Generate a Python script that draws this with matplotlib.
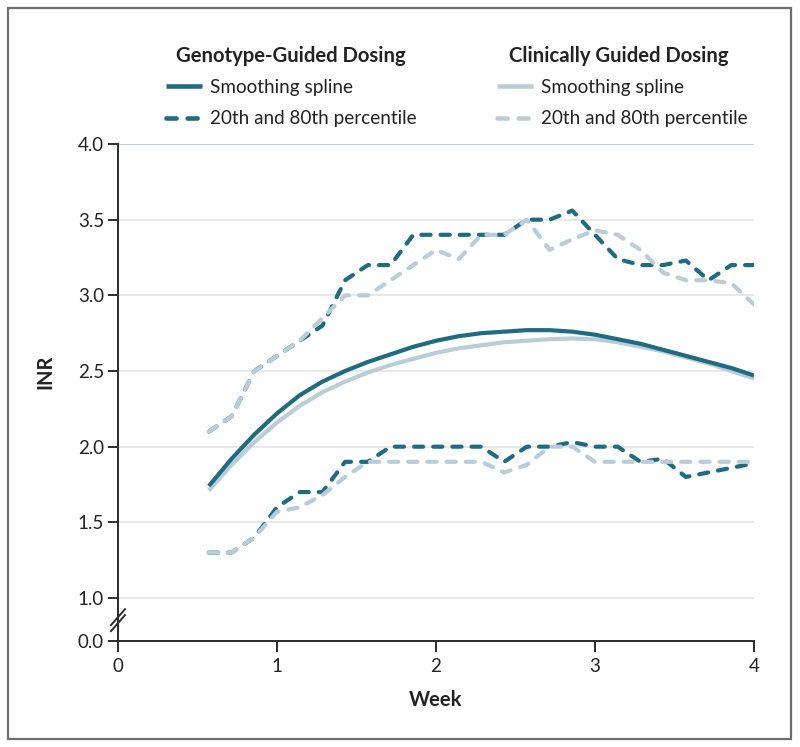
import matplotlib
matplotlib.use("Agg")
import matplotlib.pyplot as plt
from matplotlib.lines import Line2D
from matplotlib.patches import Rectangle

plt.rcParams['font.family'] = ['Lato', 'DejaVu Sans']

# ---- data -------------------------------------------------------------
day = [4, 5, 6, 7, 8, 9, 10, 11, 12, 13, 14, 15, 16, 17, 18, 19, 20,
       21, 22, 23, 24, 25, 26, 27, 28]

geno_spline = [1.74, 1.92, 2.08, 2.22, 2.34, 2.43, 2.50, 2.56, 2.61, 2.66,
               2.70, 2.73, 2.75, 2.76, 2.77, 2.77, 2.76, 2.74, 2.71, 2.68,
               2.64, 2.60, 2.56, 2.52, 2.47]
clin_spline = [1.71, 1.88, 2.03, 2.16, 2.27, 2.36, 2.43, 2.49, 2.54, 2.58,
               2.62, 2.65, 2.67, 2.69, 2.70, 2.71, 2.715, 2.71, 2.69, 2.66,
               2.63, 2.59, 2.55, 2.50, 2.45]
geno_p80 = [2.10, 2.20, 2.50, 2.60, 2.70, 2.80, 3.10, 3.20, 3.20, 3.40,
            3.40, 3.40, 3.40, 3.40, 3.50, 3.50, 3.56, 3.40, 3.24, 3.20,
            3.20, 3.23, 3.10, 3.20, 3.20]
clin_p80 = [2.10, 2.20, 2.50, 2.60, 2.70, 2.85, 3.00, 3.00, 3.10, 3.20,
            3.30, 3.24, 3.40, 3.40, 3.50, 3.30, 3.37, 3.43, 3.40, 3.30,
            3.15, 3.10, 3.10, 3.08, 2.94]
geno_p20 = [1.30, 1.30, 1.40, 1.60, 1.70, 1.70, 1.90, 1.90, 2.00, 2.00,
            2.00, 2.00, 2.00, 1.90, 2.00, 2.00, 2.03, 2.00, 2.00, 1.90,
            1.92, 1.80, 1.83, 1.86, 1.89]
clin_p20 = [1.30, 1.30, 1.40, 1.57, 1.60, 1.68, 1.80, 1.90, 1.90, 1.90,
            1.90, 1.90, 1.90, 1.83, 1.88, 2.00, 2.00, 1.90, 1.90, 1.90,
            1.90, 1.90, 1.90, 1.90, 1.90]

ytick_values = [1.0, 1.5, 2.0, 2.5, 3.0, 3.5, 4.0]
xtick_values = [0, 1, 2, 3, 4]

week = [d / 7 for d in day]

# ---- style ------------------------------------------------------------
DARK = '#1f6b81'
LIGHT = '#b9cdd9'
AXC = '#2b2b2b'
LW = 3.0
DASH = (0, (2.2, 2.4))
BREAK_BOTTOM = 0.716   # axis break: the "0.0" tick sits below 1.0

fig = plt.figure(figsize=(8, 7.47), dpi=100)
ax = fig.add_axes([118 / 800, 106 / 747, 636 / 800, 497 / 747])

for v in ytick_values[:-1]:
    ax.axhline(v, color='#e4e4e4', lw=1.2, zorder=0)
ax.axhline(ytick_values[-1], color='#a9c8db', lw=1.2, zorder=0)

kw_dash = dict(lw=LW, linestyle=DASH, dash_capstyle='round',
               solid_capstyle='round')
ax.plot(week, geno_p80, color=DARK, zorder=2, **kw_dash)
ax.plot(week, geno_p20, color=DARK, zorder=2, **kw_dash)
ax.plot(week, clin_p80, color=LIGHT, zorder=3, **kw_dash)
ax.plot(week, clin_p20, color=LIGHT, zorder=3, **kw_dash)
ax.plot(week, clin_spline, color=LIGHT, lw=LW, zorder=4,
        solid_capstyle='butt')
ax.plot(week, geno_spline, color=DARK, lw=LW, zorder=5,
        solid_capstyle='butt')

ax.set_xlim(0, 4)
ax.set_ylim(BREAK_BOTTOM, 4.0)
ax.set_xticks(xtick_values)
ax.set_xticklabels([str(v) for v in xtick_values])
ax.set_yticks([BREAK_BOTTOM] + ytick_values)
ax.set_yticklabels(['0.0'] + [f'{v:.1f}' for v in ytick_values])

for s in ['top', 'right']:
    ax.spines[s].set_visible(False)
for s in ['left', 'bottom']:
    ax.spines[s].set_color(AXC)
    ax.spines[s].set_linewidth(1.4)
ax.tick_params(axis='both', colors=AXC, labelcolor='#222222',
               labelsize=13.5, width=1.4)
ax.tick_params(axis='y', length=7, pad=3)
ax.tick_params(axis='x', length=8, pad=4)

# axis break marks
for yc in (0.036, 0.048):
    ax.plot([-0.011, 0.011], [yc - 0.016, yc + 0.016],
            transform=ax.transAxes, color=AXC, lw=1.4, clip_on=False,
            zorder=10)

fig.text(45 / 800, 1 - 372 / 747, 'INR', rotation=90, ha='center',
         va='center', fontsize=14.5, fontweight='bold', color='#222222')
fig.text(436 / 800, 1 - 700 / 747, 'Week', ha='center', va='center',
         fontsize=14.5, fontweight='bold', color='#222222')

# legends
def make_legend(color, x_handle, x_title, title):
    fig.text(x_title / 800, 1 - 56 / 747, title, ha='left', va='center',
             fontsize=14.6, fontweight='bold', color='#222222')
    handles = [Line2D([], [], color=color, lw=LW + 0.3, solid_capstyle='butt'),
               Line2D([], [], color=color, lw=LW + 0.3, linestyle=DASH,
                      dash_capstyle='round')]
    leg = fig.legend(handles, ['Smoothing spline',
                               '20th and 80th percentile'],
                     loc='upper left',
                     bbox_to_anchor=(x_handle / 800, 1 - 79 / 747),
                     frameon=False, borderpad=0, borderaxespad=0,
                     handlelength=1.9, handletextpad=0.45,
                     labelspacing=0.75, fontsize=13.6)
    for t in leg.get_texts():
        t.set_color('#222222')
    return leg

make_legend(DARK, 166, 176, 'Genotype-Guided Dosing')
make_legend(LIGHT, 497, 509, 'Clinically Guided Dosing')

fig.patches.append(Rectangle((8 / 800, 8 / 747), 783 / 800, 731 / 747,
                             transform=fig.transFigure, fill=False,
                             ec='#6e6e6e', lw=1.6))

fig.savefig('out.png', dpi=100)
